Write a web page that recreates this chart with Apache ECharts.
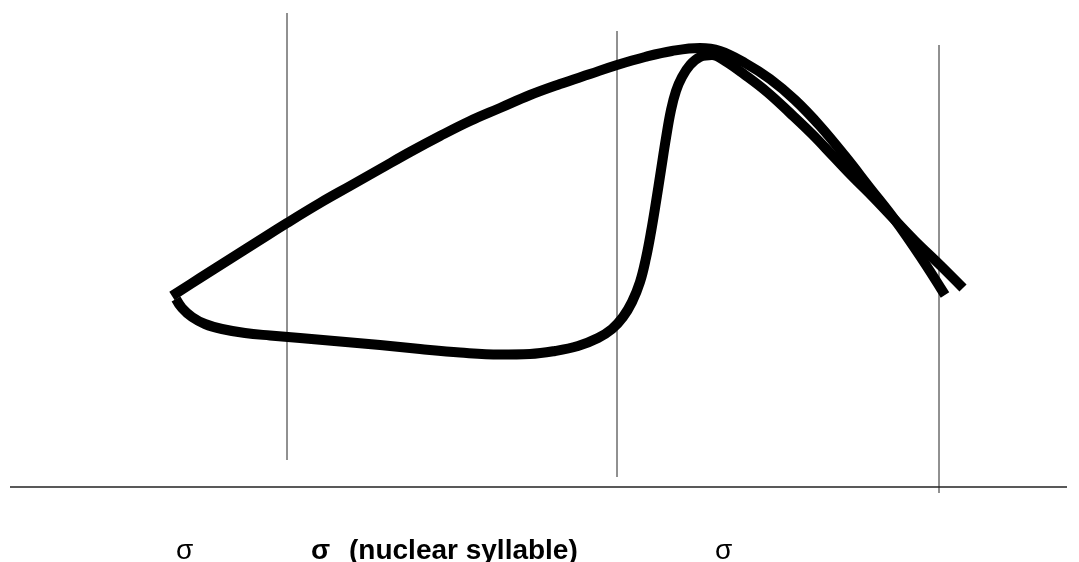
<!DOCTYPE html>
<html>
<head>
<meta charset="utf-8">
<script src="https://cdn.jsdelivr.net/npm/echarts@6/dist/echarts.min.js"></script>
<style>html,body{margin:0;padding:0;background:#fff}#c{width:1079px;height:562px}</style>
</head>
<body>
<div id="c"></div>
<script>
var contourPlainX = [172,200,230,260,287,320,350,380,410,440,470,500,530,560,590,617,645,672,700,720,745,770,795,820,845,870,895,920,945];
var contourPlainY = [296,278,259,240,223,203,186,169,152,136,121,108,95,84,74,65,57,51,48,51,63,79,100,126,156,188,220,256,295];

var contourNuclearX = [176,182,192,205,222,245,270,300,340,380,420,460,500,530,555,578,598,612,623,632,640,646,651,656,661,666,671,676,682,690,700,712,725,745,767,790,812,833,853,873,893,915,940,963];
var contourNuclearY = [299,308,317,324,329,333,335.5,338,341.5,345,349,352.5,354.5,354,351,346,338,329,317,302,282,258,232,202,170,138,110,91,77,65,57,55,61,75,92,113,134,156,177,197,218,241,265,288];

// syllable boundaries: x, top, bottom
var boundaryX = [287, 617, 939];
var boundaryTop = [13, 31, 45];
var boundaryBottom = [460, 477, 493];

// baseline
var baselineX = [10, 1067];
var baselineY = 487;

var labels = ['σ', 'σ', '(nuclear syllable)', 'σ'];

function pairs(xs, ys){ return xs.map(function(x,i){ return [x, ys[i]]; }); }

var boundaryData = [];
boundaryX.forEach(function(x,i){
  boundaryData.push([x, boundaryTop[i]]);
  boundaryData.push([x, boundaryBottom[i]]);
  boundaryData.push(null);
});

var chart = echarts.init(document.getElementById('c'), null, {renderer:'canvas'});
var thick = {color:'#000', width:10, cap:'butt', join:'round'};
var fontN = '28px "Liberation Sans", Arial, sans-serif';
var fontB = 'bold 28px "Liberation Sans", Arial, sans-serif';
chart.setOption({
  animation:false,
  backgroundColor:'#fff',
  grid:{left:0,right:0,top:0,bottom:0},
  xAxis:{type:'value',min:0,max:1079,show:false},
  yAxis:{type:'value',min:0,max:562,inverse:true,show:false},
  series:[
    {type:'line',data:boundaryData,symbol:'none',connectNulls:false,lineStyle:{color:'#222',width:1},silent:true},
    {type:'line',data:[[baselineX[0],baselineY],[baselineX[1],baselineY]],symbol:'none',lineStyle:{color:'#222',width:1.3},silent:true},
    {type:'line',data:pairs(contourPlainX,contourPlainY),symbol:'none',smooth:0.4,lineStyle:thick},
    {type:'line',data:pairs(contourNuclearX,contourNuclearY),symbol:'none',smooth:0.4,lineStyle:thick}
  ],
  graphic:[
    {type:'text',left:176,top:537,style:{text:labels[0],font:fontN,fill:'#000'}},
    {type:'text',left:311,top:537,style:{text:labels[1],font:fontB,fill:'#000'}},
    {type:'text',left:349,top:537,style:{text:labels[2],font:fontB,fill:'#000'}},
    {type:'text',left:715,top:537,style:{text:labels[3],font:fontN,fill:'#000'}}
  ]
});
</script>
</body>
</html>
